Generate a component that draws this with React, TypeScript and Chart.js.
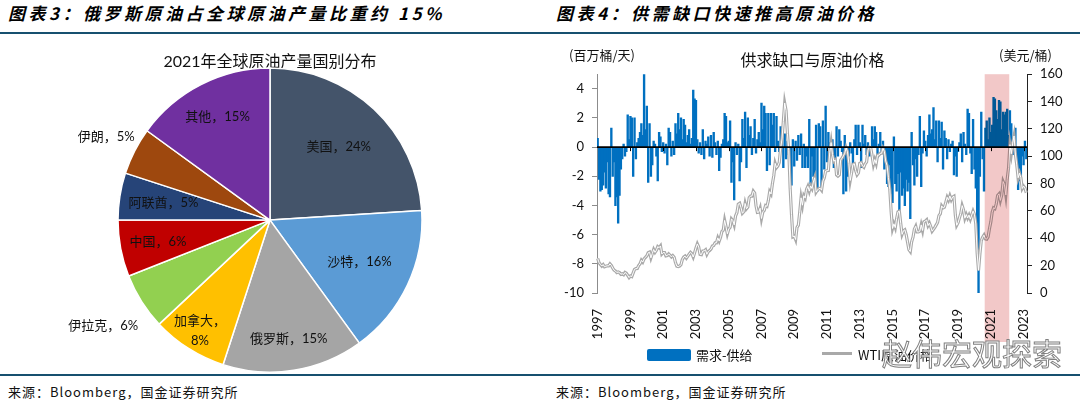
import React, { useEffect, useRef } from "react";
import { Chart, registerables } from "chart.js";

Chart.register(...registerables);

// ---------- Left chart: 2021 crude output by country ----------
const pieCountries = ["美国", "沙特", "俄罗斯", "加拿大", "伊拉克", "中国", "阿联酋", "伊朗", "其他"];
const pieShares = [24, 16, 15, 8, 6, 6, 5, 5, 15];
const pieColors = ["#44546A", "#5B9BD5", "#A5A5A5", "#FFC000", "#92D050", "#C00000", "#264478", "#9E480E", "#7030A0"];

// ---------- Right chart: demand - supply gap (mb/d) and WTI (USD/bbl), monthly from 1997-01 ----------
const startYear = 1997;
const supplyGap = [
  0.6, -2.2, -3.0, -2.9, -2.6, -1.7, -2.8, -1.0, -3.2, -3.4, 1.3, -2.0,
  -1.0, -4.0, -3.4, -5.2, -3.3, -1.5, -0.8, 0.2, -0.6, -0.3, 2.2, 0.5,
  2.1, 2.0, -2.0, 2.0, -0.8, 0.3, 0.6, 1.0, 1.6, 0.8, 5.0, 1.2,
  2.8, -2.4, 1.6, -2.0, -1.2, 0.4, 0.2, -0.6, -2.3, 1.0, 0.7, -0.3,
  0.3, -0.4, 0.2, -1.2, 1.3, 1.0, -0.6, 0.4, -0.5, 1.6, 0.9, 2.3,
  1.2, 2.0, 0.5, 1.9, 1.5, 0.3, 0.8, 1.2, 0.2, 0.6, 3.9, 3.3,
  3.2, 0.5, -0.4, 0.3, -0.5, 1.2, -0.8, 0.4, 0.2, 0.7, -0.6, 0.8,
  -0.7, 1.0, 0.3, -0.5, 0.4, -1.6, -0.7, 0.2, 0.5, 2.3, 2.1, 0.3,
  0.4, 1.8, -2.4, -1.0, -3.6, 0.3, -0.5, 0.2, -2.3, -1.0, 1.9, 0.6,
  2.4, -1.4, 2.0, 0.8, 1.4, -0.5, 0.6, 1.9, -0.4, 0.5, 1.0, 0.3,
  3.0, 1.2, 2.8, 2.3, -1.6, 2.3, -1.2, 2.3, 1.5, 2.3, -0.3, 2.1,
  0.4, -0.3, 1.4, 0.6, -1.4, 0.9, -0.8, 0.4, -0.5, -1.5, -2.6, 0.5,
  -1.3, 0.4, -0.9, 0.8, -0.5, 0.9, -1.4, 0.2, -1.4, -0.6, -1.4, 1.9,
  -2.5, -0.6, -2.0, -1.8, 1.5, -3.0, 1.6, 1.4, -2.9, 1.8, -1.5, 2.8,
  -1.0, 1.0, 0.3, -0.4, 0.5, -1.4, -1.2, 1.4, -0.6, 1.2, 0.4, -0.3,
  -3.2, 0.8, -3.0, -2.0, -0.6, 0.3, -0.4, -1.1, 0.5, 1.5, -0.5, 1.5,
  0.3, -1.4, 1.5, 0.2, 0.8, -0.5, 0.3, -0.6, -0.3, 1.4, 0.5, 1.4,
  1.0, -0.7, 0.2, 1.0, -0.3, 0.4, -1.5, -0.6, -2.5, -2.7, -1.2, -3.2,
  -3.8, 0.7, -2.5, -3.0, -1.8, -4.3, -1.7, -3.3, -2.8, -4.0, -2.2, -3.0,
  -2.4, -4.9, 1.0, -1.2, -2.6, -0.8, -2.0, -0.5, 2.1, -2.7, -0.4, 1.1,
  0.4, -0.6, 0.8, 2.2, 0.9, 1.2, 2.7, 0.5, 1.8, -1.0, 1.8, 0.6,
  1.7, -1.5, 1.1, 0.6, -0.8, 0.5, -0.3, 0.2, 0.4, -1.9, -0.6, -2.0,
  -0.3, 0.3, 0.9, -1.0, 1.0, 0.2, -0.5, 2.6, 2.3, -0.4, -1.8, 1.9,
  -1.5, -2.8, -7.0, -10.0, -2.0, 2.4, -0.8, -3.0, 1.3, 1.8, 0.5, 2.0,
  1.0, 1.5, 3.4, 3.3, 2.5, 1.9, 3.2, 3.1, 1.2, 2.4, 2.2, 2.4,
  2.6, 0.8, 2.5, 1.6, -0.5, 0.3, 1.3, -1.0, -2.9, -2.3, -2.0, -0.6,
  -1.2, 0.4, -0.8,
];
const wtiPrice = [
  25.2, 22.2, 20.9, 19.7, 20.8, 19.2, 19.6, 19.9, 19.8, 21.3, 20.2, 18.3,
  16.7, 16.1, 15.0, 15.4, 14.9, 13.7, 14.1, 13.4, 15.0, 14.4, 12.9, 11.3,
  12.5, 12.0, 14.7, 17.3, 17.8, 17.9, 20.1, 21.3, 23.9, 22.6, 25.0, 26.1,
  27.2, 29.4, 29.9, 25.7, 28.8, 31.8, 29.7, 31.2, 33.9, 33.1, 34.4, 28.5,
  29.6, 29.6, 27.2, 27.4, 28.6, 27.6, 26.4, 27.4, 26.2, 22.2, 19.6, 19.3,
  19.7, 20.7, 24.4, 26.3, 27.0, 25.5, 26.9, 28.4, 29.7, 28.8, 26.3, 29.4,
  32.9, 35.9, 33.6, 28.3, 28.1, 30.7, 30.8, 31.6, 28.3, 30.3, 31.1, 32.1,
  34.3, 34.7, 36.7, 36.7, 40.3, 38.0, 40.8, 44.9, 46.0, 53.1, 48.5, 43.3,
  46.8, 48.1, 54.2, 53.0, 49.8, 56.3, 58.7, 65.0, 65.6, 62.4, 58.3, 59.4,
  65.5, 61.6, 62.9, 69.7, 70.9, 70.9, 74.4, 73.0, 63.8, 58.9, 59.1, 62.0,
  54.5, 59.3, 60.4, 63.9, 63.4, 67.5, 74.1, 72.4, 79.9, 85.8, 94.8, 91.7,
  93.0, 95.4, 105.5, 112.6, 125.4, 138.9, 133.4, 116.7, 104.1, 76.6, 57.3, 41.1,
  41.7, 39.1, 47.9, 49.6, 59.0, 69.6, 64.2, 71.1, 69.4, 75.7, 78.0, 74.5,
  78.3, 76.4, 81.2, 84.3, 73.7, 75.3, 76.3, 76.6, 75.2, 81.9, 84.3, 89.2,
  89.4, 89.6, 102.9, 110.0, 101.3, 96.3, 97.3, 86.3, 85.5, 86.3, 97.2, 98.6,
  100.3, 102.2, 106.2, 103.3, 94.7, 82.3, 87.9, 94.1, 94.5, 89.5, 86.5, 87.9,
  94.8, 95.3, 92.9, 92.0, 94.5, 95.8, 104.6, 106.6, 106.3, 100.5, 93.9, 97.6,
  94.6, 100.8, 100.8, 102.1, 102.2, 105.8, 103.6, 96.5, 93.2, 84.4, 75.8, 59.3,
  47.2, 50.6, 47.8, 54.5, 59.3, 59.8, 50.9, 42.9, 45.5, 46.2, 42.7, 37.2,
  31.7, 30.3, 37.5, 40.8, 46.7, 48.8, 44.7, 44.7, 45.2, 49.8, 45.7, 52.0,
  52.5, 53.5, 49.3, 51.1, 48.5, 45.2, 46.6, 48.0, 49.8, 51.6, 56.6, 57.9,
  63.7, 62.2, 62.7, 66.3, 70.0, 67.9, 71.0, 68.1, 70.2, 70.8, 57.0, 49.5,
  51.4, 54.9, 58.2, 63.9, 60.8, 54.7, 57.4, 54.8, 57.0, 54.0, 57.0, 59.9,
  57.5, 50.5, 29.2, 16.6, 28.6, 38.3, 40.7, 42.3, 39.6, 39.4, 41.0, 47.0,
  52.0, 59.1, 62.3, 61.7, 65.2, 71.4, 72.5, 67.7, 71.6, 81.5, 79.2, 71.7,
  83.2, 91.6, 108.5, 101.8, 109.6, 114.8, 101.6, 93.7, 84.3, 87.6, 84.4, 76.4,
  78.1, 76.8, 73.3,
];
const highlightStart = "2020-09";
const highlightEnd = "2022-02";
const gapTicks = [-10, -8, -6, -4, -2, 0, 2, 4];
const priceTicks = [0, 20, 40, 60, 80, 100, 120, 140, 160];

const monthLabels: string[] = supplyGap.map((_, i) => {
  const y = startYear + Math.floor(i / 12);
  const m = (i % 12) + 1;
  return `${y}-${m < 10 ? "0" + m : m}`;
});
const isYearTick = (label: string) => {
  const [y, m] = label.split("-");
  return m === "01" && Number(y) % 2 === 1;
};

// label styling for the pie (radius fraction of outer radius; line wrapping)
const pieLabelRadius = [0.66, 0.65, 0.79, 0.86, 1.3, 0.75, 0.71, 1.21, 0.76];
const pieLabelWrap = [false, false, false, true, false, false, false, false, false];

const LABEL_FONT = 'Lato, "Noto Sans CJK SC", sans-serif';
const CJK_FONT = '"Noto Sans CJK SC", sans-serif';

function PieChart() {
  const ref = useRef<HTMLCanvasElement>(null);
  useEffect(() => {
    if (!ref.current) return;
    const labelPlugin = {
      id: "pieLabels",
      afterDatasetsDraw(chart: any) {
        const meta = chart.getDatasetMeta(0);
        const ctx = chart.ctx;
        ctx.save();
        ctx.font = `13px ${LABEL_FONT}`;
        ctx.fillStyle = "#111";
        ctx.textAlign = "center";
        ctx.textBaseline = "middle";
        meta.data.forEach((arc: any, i: number) => {
          const p = arc.getProps(["x", "y", "startAngle", "endAngle", "outerRadius"], true);
          const mid = (p.startAngle + p.endAngle) / 2;
          const r = p.outerRadius * pieLabelRadius[i];
          const lx = p.x + Math.cos(mid) * r;
          const ly = p.y + Math.sin(mid) * r;
          const name = pieCountries[i] + "，";
          const val = pieShares[i] + "%";
          if (pieLabelWrap[i]) {
            ctx.fillText(name, lx, ly - 10);
            ctx.fillText(val, lx, ly + 10);
          } else {
            ctx.fillText(name + val, lx, ly);
          }
        });
        ctx.restore();
      },
    };
    const chart = new Chart(ref.current, {
      type: "pie",
      data: {
        labels: pieCountries,
        datasets: [
          {
            data: pieShares,
            backgroundColor: pieColors,
            borderColor: "#ffffff",
            borderWidth: 1.5,
          },
        ],
      },
      options: {
        animation: false,
        responsive: false,
        radius: 152,
        layout: { padding: { top: 0, bottom: 5, left: 0, right: 0 } },
        plugins: {
          legend: { display: false },
          tooltip: { enabled: false },
          title: {
            display: true,
            text: "2021年全球原油产量国别分布",
            color: "#111",
            font: { family: LABEL_FONT, size: 16, weight: "normal" },
            padding: { top: 12, bottom: 0 },
          },
        },
      } as any,
      plugins: [labelPlugin],
    });
    return () => chart.destroy();
  }, []);
  return (
    <canvas
      ref={ref}
      width={540}
      height={334}
      style={{ position: "absolute", left: 0, top: 40, width: 540, height: 334 }}
    />
  );
}

function GapChart() {
  const ref = useRef<HTMLCanvasElement>(null);
  useEffect(() => {
    if (!ref.current) return;
    const decor = {
      id: "gapDecor",
      afterDatasetsDraw(chart: any) {
        const { ctx, chartArea, scales } = chart;
        const y0 = scales.y.getPixelForValue(0);
        ctx.save();
        ctx.strokeStyle = "#000";
        ctx.lineWidth = 1.6;
        ctx.beginPath();
        ctx.moveTo(chartArea.left, y0);
        ctx.lineTo(chartArea.right, y0);
        ctx.stroke();
        ctx.lineWidth = 1;
        ctx.beginPath();
        monthLabels.forEach((m, i) => {
          if (isYearTick(m) && i > 0) {
            const x = Math.round(scales.x.getPixelForValue(i)) + 0.5;
            ctx.moveTo(x, y0);
            ctx.lineTo(x, y0 + 4);
          }
        });
        ctx.stroke();
        ctx.restore();
      },
      afterDraw(chart: any) {
        const { ctx, chartArea, scales } = chart;
        const i0 = monthLabels.indexOf(highlightStart);
        const i1 = monthLabels.indexOf(highlightEnd);
        const half = (scales.x.getPixelForValue(1) - scales.x.getPixelForValue(0)) / 2;
        const x0 = scales.x.getPixelForValue(i0) - half;
        const x1 = scales.x.getPixelForValue(i1) + half;
        ctx.save();
        ctx.globalCompositeOperation = "multiply";
        ctx.fillStyle = "#F2C8C8";
        ctx.fillRect(x0, chartArea.top, x1 - x0, chartArea.bottom - chartArea.top + 49);
        ctx.globalCompositeOperation = "source-over";
        ctx.fillStyle = "#111";
        ctx.font = `13px ${CJK_FONT}`;
        ctx.textBaseline = "middle";
        ctx.textAlign = "left";
        ctx.fillText("(百万桶/天)", chartArea.left - 28, chartArea.top - 19);
        ctx.textAlign = "right";
        ctx.fillText("(美元/桶)", chartArea.right + 25, chartArea.top - 19);
        ctx.restore();
      },
    };
    const tickFont = { family: "Lato, sans-serif", size: 13 };
    const chart = new Chart(ref.current, {
      type: "bar",
      data: {
        labels: monthLabels,
        datasets: [
          {
            type: "bar",
            label: "需求-供给",
            data: supplyGap,
            backgroundColor: "#0070C0",
            borderWidth: 0,
            barPercentage: 1,
            categoryPercentage: 1,
            inflateAmount: 0.5,
            yAxisID: "y",
            order: 3,
          },
          {
            type: "line",
            label: "WTI原油价格",
            data: wtiPrice,
            borderColor: "#A9A9A9",
            borderWidth: 3.2,
            pointRadius: 0,
            tension: 0,
            yAxisID: "y1",
            order: 2,
          },
          {
            type: "line",
            label: "WTI原油价格-inner",
            data: wtiPrice,
            borderColor: "#FFFFFF",
            borderWidth: 1,
            pointRadius: 0,
            tension: 0,
            yAxisID: "y1",
            order: 1,
          },
        ],
      } as any,
      options: {
        animation: false,
        responsive: false,
        layout: { padding: 0 },
        plugins: {
          legend: { display: false },
          tooltip: { enabled: false },
          title: {
            display: true,
            text: "供求缺口与原油价格",
            color: "#111",
            font: { family: CJK_FONT, size: 16, weight: "normal" },
            padding: { top: 10, bottom: 5 },
          },
        },
        scales: {
          x: {
            type: "category",
            grid: { display: false },
            border: { display: false },
            ticks: {
              autoSkip: false,
              maxRotation: 90,
              minRotation: 90,
              padding: 8,
              color: "#111",
              font: tickFont,
              callback: (_v: any, i: number) => (isYearTick(monthLabels[i]) ? monthLabels[i].slice(0, 4) : ""),
            },
            afterFit: (s: any) => {
              s.height = 52;
            },
          },
          y: {
            position: "left",
            min: gapTicks[0],
            max: 5,
            afterBuildTicks: (s: any) => {
              s.ticks = gapTicks.map((v) => ({ value: v }));
            },
            ticks: { color: "#111", font: tickFont, padding: 8 },
            grid: { drawOnChartArea: false, drawTicks: true, tickLength: 5, color: "#8C8C8C" },
            border: { display: true, color: "#8C8C8C", width: 1 },
            afterFit: (s: any) => {
              s.width = 52;
            },
          },
          y1: {
            position: "right",
            min: priceTicks[0],
            max: priceTicks[priceTicks.length - 1],
            afterBuildTicks: (s: any) => {
              s.ticks = priceTicks.map((v) => ({ value: v }));
            },
            ticks: { color: "#111", font: tickFont, padding: 8 },
            grid: { drawOnChartArea: false, drawTicks: true, tickLength: 5, color: "#222" },
            border: { display: true, color: "#222", width: 1 },
            afterFit: (s: any) => {
              s.width = 53;
            },
          },
        },
      } as any,
      plugins: [decor],
    });
    return () => chart.destroy();
  }, []);
  return (
    <canvas
      ref={ref}
      width={535}
      height={305}
      style={{ position: "absolute", left: 545, top: 40, width: 535, height: 305 }}
    />
  );
}

const headerStyle: React.CSSProperties = {
  position: "absolute",
  top: 0,
  height: 26,
  lineHeight: "26px",
  fontFamily: CJK_FONT,
  fontWeight: 700,
  fontStyle: "italic",
  fontSize: 17,
  letterSpacing: 3.5,
  color: "#000",
  whiteSpace: "nowrap",
};
const footerStyle: React.CSSProperties = {
  position: "absolute",
  top: 382,
  height: 20,
  lineHeight: "20px",
  fontFamily: CJK_FONT,
  fontSize: 13,
  letterSpacing: 1,
  color: "#111",
  whiteSpace: "nowrap",
};

export default function App() {
  return (
    <div
      style={{
        position: "absolute",
        left: 0,
        top: 0,
        width: 1080,
        height: 402,
        background: "#fff",
        overflow: "hidden",
      }}
    >
      <div style={{ ...headerStyle, left: 8 }}>图表3：俄罗斯原油占全球原油产量比重约 15%</div>
      <div style={{ ...headerStyle, left: 556 }}>图表4：供需缺口快速推高原油价格</div>
      <div style={{ position: "absolute", left: 0, top: 32, width: 1080, height: 2, background: "#17506F" }} />
      <PieChart />
      <GapChart />
      {/* legend */}
      <div style={{ position: "absolute", left: 647, top: 349, width: 44, height: 12, background: "#0070C0", borderRadius: 2 }} />
      <div style={{ position: "absolute", left: 696, top: 346, height: 18, lineHeight: "18px", fontFamily: CJK_FONT, fontSize: 13, color: "#111", whiteSpace: "nowrap" }}>需求-供给</div>
      <div style={{ position: "absolute", left: 822, top: 352, width: 30, height: 3, background: "#A9A9A9" }} />
      <div style={{ position: "absolute", left: 858, top: 346, height: 18, lineHeight: "18px", fontFamily: CJK_FONT, fontSize: 13, color: "#111", whiteSpace: "nowrap" }}>WTI原油价格</div>
      {/* watermark */}
      <div
        style={{
          position: "absolute",
          left: 882,
          top: 333,
          height: 38,
          lineHeight: "38px",
          fontFamily: CJK_FONT,
          fontSize: 30,
          color: "rgba(255,255,255,0.95)",
          WebkitTextStroke: "1px #808080",
          whiteSpace: "nowrap",
        }}
      >
        赵伟宏观探索
      </div>
      <div style={{ position: "absolute", left: 0, top: 374, width: 1080, height: 2, background: "#17506F" }} />
      <div style={{ ...footerStyle, left: 8 }}>来源：Bloomberg，国金证券研究所</div>
      <div style={{ ...footerStyle, left: 556 }}>来源：Bloomberg，国金证券研究所</div>
    </div>
  );
}
